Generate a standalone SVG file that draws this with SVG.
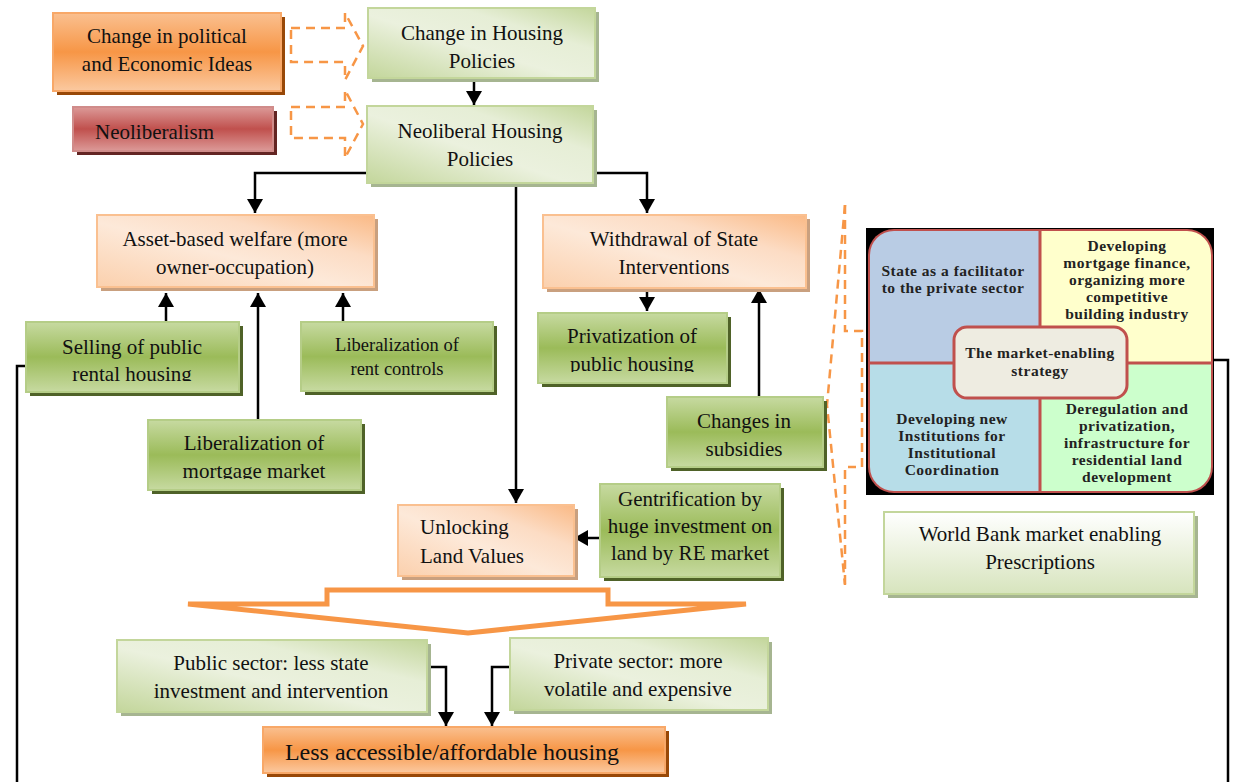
<svg xmlns="http://www.w3.org/2000/svg" width="1256" height="782" viewBox="0 0 1256 782">
  <defs>
    <!-- box fills -->
    <linearGradient id="gOrange" x1="0" y1="0" x2="0" y2="1">
      <stop offset="0" stop-color="#fac090"/>
      <stop offset="0.5" stop-color="#f79646"/>
      <stop offset="1" stop-color="#fbc9a0"/>
    </linearGradient>
    <linearGradient id="gRed" x1="0" y1="0" x2="0" y2="1">
      <stop offset="0" stop-color="#dc9a98"/>
      <stop offset="0.5" stop-color="#c0504d"/>
      <stop offset="1" stop-color="#dc9a98"/>
    </linearGradient>
    <linearGradient id="gGreen" x1="0" y1="0" x2="0" y2="1">
      <stop offset="0" stop-color="#c7daa1"/>
      <stop offset="0.5" stop-color="#9bbb59"/>
      <stop offset="1" stop-color="#c7daa1"/>
    </linearGradient>
    <linearGradient id="gLight" x1="0" y1="1" x2="1" y2="0">
      <stop offset="0" stop-color="#c3d69b"/>
      <stop offset="0.45" stop-color="#ebf1de"/>
      <stop offset="0.7" stop-color="#e6eed6"/>
      <stop offset="1" stop-color="#c3d69b"/>
    </linearGradient>
    <linearGradient id="gPeach" x1="0" y1="1" x2="1" y2="0">
      <stop offset="0" stop-color="#fbd0ad"/>
      <stop offset="0.45" stop-color="#fde9d9"/>
      <stop offset="0.7" stop-color="#fcdcc4"/>
      <stop offset="1" stop-color="#fab985"/>
    </linearGradient>
    <linearGradient id="gWhiteGreen" x1="0" y1="0" x2="0" y2="1">
      <stop offset="0" stop-color="#ffffff"/>
      <stop offset="1" stop-color="#d7e4bd"/>
    </linearGradient>
    <marker id="arr" markerUnits="userSpaceOnUse" markerWidth="16" markerHeight="16" refX="14" refY="8" orient="auto">
      <path d="M0,0 L14,8 L0,16 Z" fill="#000"/>
    </marker>
    <clipPath id="cSelling"><rect x="26" y="322" width="213" height="59"/></clipPath>
    <clipPath id="cMortgage"><rect x="148" y="420" width="213" height="59"/></clipPath>
    <clipPath id="cPrivat"><rect x="538" y="313" width="189" height="59"/></clipPath>
    <clipPath id="cSubs"><rect x="667" y="397" width="156" height="59"/></clipPath>
    <clipPath id="cPanel"><rect x="870" y="231" width="341" height="260" rx="24"/></clipPath>
  </defs>
  <style>
    text { font-family: "Liberation Serif", "Times New Roman", serif; fill: #111; }
    .t { font-size: 21px; text-anchor: middle; }
    .ts { font-size: 18.5px; text-anchor: middle; }
    .tl { font-size: 21px; }
    .tb { font-size: 15.5px; font-weight: bold; letter-spacing: 0.5px; text-anchor: middle; fill: #222; }
    .orange { fill: url(#gOrange); stroke: #f8a868; stroke-width: 2; }
    .red { fill: url(#gRed); stroke: #d08c8a; stroke-width: 2; }
    .green { fill: url(#gGreen); stroke: #b5cd87; stroke-width: 2; }
    .light { fill: url(#gLight); stroke: #c3d69b; stroke-width: 2; }
    .peach { fill: url(#gPeach); stroke: #fac090; stroke-width: 2; }
    .wg { fill: url(#gWhiteGreen); stroke: #c3d69b; stroke-width: 2; }
    .shO { fill: #984807; }
    .shR { fill: #632523; }
    .shG { fill: #4f6228; }
    .shL { fill: #a6b591; }
    .shP { fill: #c9a07f; }
    .conn { fill: none; stroke: #000; stroke-width: 2.5; }
    .arrow { marker-end: url(#arr); }
    .dash { fill: none; stroke: #f79646; stroke-width: 2.5; stroke-dasharray: 9 6; }
    .quad { stroke: #c0504d; stroke-width: 3; }
  </style>

  <!-- connectors -->
  <g id="connectors">
    <path class="conn arrow" d="M474,80 V105"/>
    <path class="conn arrow" d="M367,173 H255 V213"/>
    <path class="conn arrow" d="M593,173 H647 V213"/>
    <path class="conn arrow" d="M516,183 V503"/>
    <path class="conn arrow" d="M166,322 V293"/>
    <path class="conn arrow" d="M258,420 V293"/>
    <path class="conn arrow" d="M343,322 V293"/>
    <path class="conn arrow" d="M647,289 V311"/>
    <path class="conn arrow" d="M759,397 V289"/>
    <path class="conn arrow" d="M600,538 H574"/>
    <path class="conn arrow" d="M427,667 H446 V726"/>
    <path class="conn arrow" d="M510,667 H492 V726"/>
    <path class="conn" d="M26,366 H17 V782"/>
    <path class="conn" d="M1213,360 H1228 V782"/>
    <!-- dashed block arrows -->
    <path class="dash" d="M291,28 H345 V13 L363,46 L345,80 V62 H291 Z"/>
    <path class="dash" d="M291,107 H345 V90 L363,124 L345,158 V138 H291 Z"/>
    <!-- dashed callout toward the strategy panel -->
    <path class="dash" d="M845,205 L827,405 L845,585"/>
    <path class="dash" d="M845,205 V331 H862 V467 H848 M845,470 V585"/>
    <!-- big outline down arrow -->
    <path d="M188,604 H327 V590 H608 V604 H746 L468,633 Z" fill="none" stroke="#f79646" stroke-width="5" stroke-linejoin="miter"/>
  </g>

  <g id="political-ideas">
    <rect class="shO" x="57" y="17" width="228" height="78"/>
    <rect class="orange" x="53" y="13" width="228" height="78"/>
    <text class="t" x="167" y="43">Change in political</text>
    <text class="t" x="167" y="71">and Economic Ideas</text>
  </g>

  <g id="neoliberalism">
    <rect class="shR" x="77" y="111" width="200" height="44"/>
    <rect class="red" x="73" y="107" width="200" height="44"/>
    <text class="tl" x="95" y="139">Neoliberalism</text>
  </g>

  <g id="change-housing-policies">
    <rect class="shL" x="372" y="12" width="227" height="70"/>
    <rect class="light" x="368" y="8" width="227" height="70"/>
    <text class="t" x="482" y="40">Change in Housing</text>
    <text class="t" x="482" y="68">Policies</text>
  </g>

  <g id="neoliberal-housing-policies">
    <rect class="shL" x="371" y="110" width="226" height="77"/>
    <rect class="light" x="367" y="106" width="226" height="77"/>
    <text class="t" x="480" y="138">Neoliberal Housing</text>
    <text class="t" x="480" y="166">Policies</text>
  </g>

  <g id="asset-based-welfare">
    <rect class="shP" x="101" y="219" width="277" height="72"/>
    <rect class="peach" x="97" y="215" width="277" height="72"/>
    <text class="t" x="235" y="246">Asset-based welfare (more</text>
    <text class="t" x="235" y="274">owner-occupation)</text>
  </g>

  <g id="withdrawal-state">
    <rect class="shP" x="547" y="219" width="263" height="73"/>
    <rect class="peach" x="543" y="215" width="263" height="73"/>
    <text class="t" x="674" y="246">Withdrawal of State</text>
    <text class="t" x="674" y="274">Interventions</text>
  </g>

  <g id="selling-public-rental">
    <rect class="shG" x="30" y="326" width="213" height="70"/>
    <rect class="green" x="26" y="322" width="213" height="70"/>
    <g clip-path="url(#cSelling)">
      <text class="t" x="132" y="354">Selling of public</text>
      <text class="t" x="132" y="381">rental housing</text>
    </g>
  </g>

  <g id="rent-controls">
    <rect class="shG" x="305" y="326" width="192" height="69"/>
    <rect class="green" x="301" y="322" width="192" height="69"/>
    <text class="ts" x="397" y="351">Liberalization of</text>
    <text class="ts" x="397" y="375">rent controls</text>
  </g>

  <g id="mortgage-market">
    <rect class="shG" x="152" y="424" width="213" height="70"/>
    <rect class="green" x="148" y="420" width="213" height="70"/>
    <g clip-path="url(#cMortgage)">
      <text class="t" x="254" y="450">Liberalization of</text>
      <text class="t" x="254" y="478">mortgage market</text>
    </g>
  </g>

  <g id="privatization">
    <rect class="shG" x="542" y="317" width="189" height="70"/>
    <rect class="green" x="538" y="313" width="189" height="70"/>
    <g clip-path="url(#cPrivat)">
      <text class="t" x="632" y="343">Privatization of</text>
      <text class="t" x="632" y="371">public housing</text>
    </g>
  </g>

  <g id="subsidies">
    <rect class="shG" x="671" y="401" width="156" height="70"/>
    <rect class="green" x="667" y="397" width="156" height="70"/>
    <g clip-path="url(#cSubs)">
      <text class="t" x="744" y="428">Changes in</text>
      <text class="t" x="744" y="456">subsidies</text>
    </g>
  </g>

  <g id="unlocking-land">
    <rect class="shP" x="402" y="509" width="176" height="71"/>
    <rect class="peach" x="398" y="505" width="176" height="71"/>
    <text class="tl" x="420" y="534">Unlocking</text>
    <text class="tl" x="420" y="563">Land Values</text>
  </g>

  <g id="gentrification">
    <rect class="shG" x="604" y="488" width="180" height="93"/>
    <rect class="green" x="600" y="484" width="180" height="93"/>
    <text class="t" x="690" y="506">Gentrification by</text>
    <text class="t" x="690" y="533">huge investment on</text>
    <text class="t" x="690" y="560">land by RE market</text>
  </g>

  <g id="public-sector">
    <rect class="shL" x="121" y="644" width="310" height="72"/>
    <rect class="light" x="117" y="640" width="310" height="72"/>
    <text class="t" x="271" y="670">Public sector: less state</text>
    <text class="t" x="271" y="698">investment and intervention</text>
  </g>

  <g id="private-sector">
    <rect class="shL" x="514" y="642" width="258" height="72"/>
    <rect class="light" x="510" y="638" width="258" height="72"/>
    <text class="t" x="638" y="668">Private sector: more</text>
    <text class="t" x="638" y="696">volatile and expensive</text>
  </g>

  <g id="less-accessible">
    <rect class="shO" x="267" y="731" width="402" height="46"/>
    <rect class="orange" x="263" y="727" width="402" height="46"/>
    <text x="452" y="760" style="font-size:24px;text-anchor:middle">Less accessible/affordable housing</text>
  </g>

  <g id="market-enabling-strategy">
    <rect x="866" y="228" width="348" height="267" fill="#000"/>
    <rect x="868" y="229" width="345" height="264" rx="26" fill="#c0504d"/>
    <g clip-path="url(#cPanel)">
      <rect x="868" y="229" width="172" height="134" fill="#b9cce4"/>
      <rect x="1040" y="229" width="173" height="134" fill="#ffffcc"/>
      <rect x="868" y="363" width="172" height="130" fill="#b7dde8"/>
      <rect x="1040" y="363" width="173" height="130" fill="#ccffcc"/>
      <line class="quad" x1="1040" y1="229" x2="1040" y2="493"/>
      <line class="quad" x1="868" y1="363" x2="1213" y2="363"/>
    </g>
    <rect x="954" y="327" width="173" height="71" rx="13" fill="#eeece1" stroke="#c0504d" stroke-width="3"/>
    <text class="tb" x="953" y="276">State as a facilitator</text>
    <text class="tb" x="953" y="293">to the private sector</text>
    <text class="tb" x="1127" y="251">Developing</text>
    <text class="tb" x="1127" y="268">mortgage finance,</text>
    <text class="tb" x="1127" y="285">organizing more</text>
    <text class="tb" x="1127" y="302">competitive</text>
    <text class="tb" x="1127" y="319">building industry</text>
    <text class="tb" x="1040" y="358">The market-enabling</text>
    <text class="tb" x="1040" y="376">strategy</text>
    <text class="tb" x="952" y="424">Developing new</text>
    <text class="tb" x="952" y="441">Institutions for</text>
    <text class="tb" x="952" y="458">Institutional</text>
    <text class="tb" x="952" y="475">Coordination</text>
    <text class="tb" x="1127" y="414">Deregulation and</text>
    <text class="tb" x="1127" y="431">privatization,</text>
    <text class="tb" x="1127" y="448">infrastructure for</text>
    <text class="tb" x="1127" y="465">residential land</text>
    <text class="tb" x="1127" y="482">development</text>
  </g>

  <g id="world-bank">
    <rect class="shL" x="888" y="516" width="310" height="82"/>
    <rect class="wg" x="884" y="512" width="310" height="82"/>
    <text class="t" x="1040" y="541">World Bank market enabling</text>
    <text class="t" x="1040" y="569">Prescriptions</text>
  </g>
</svg>
